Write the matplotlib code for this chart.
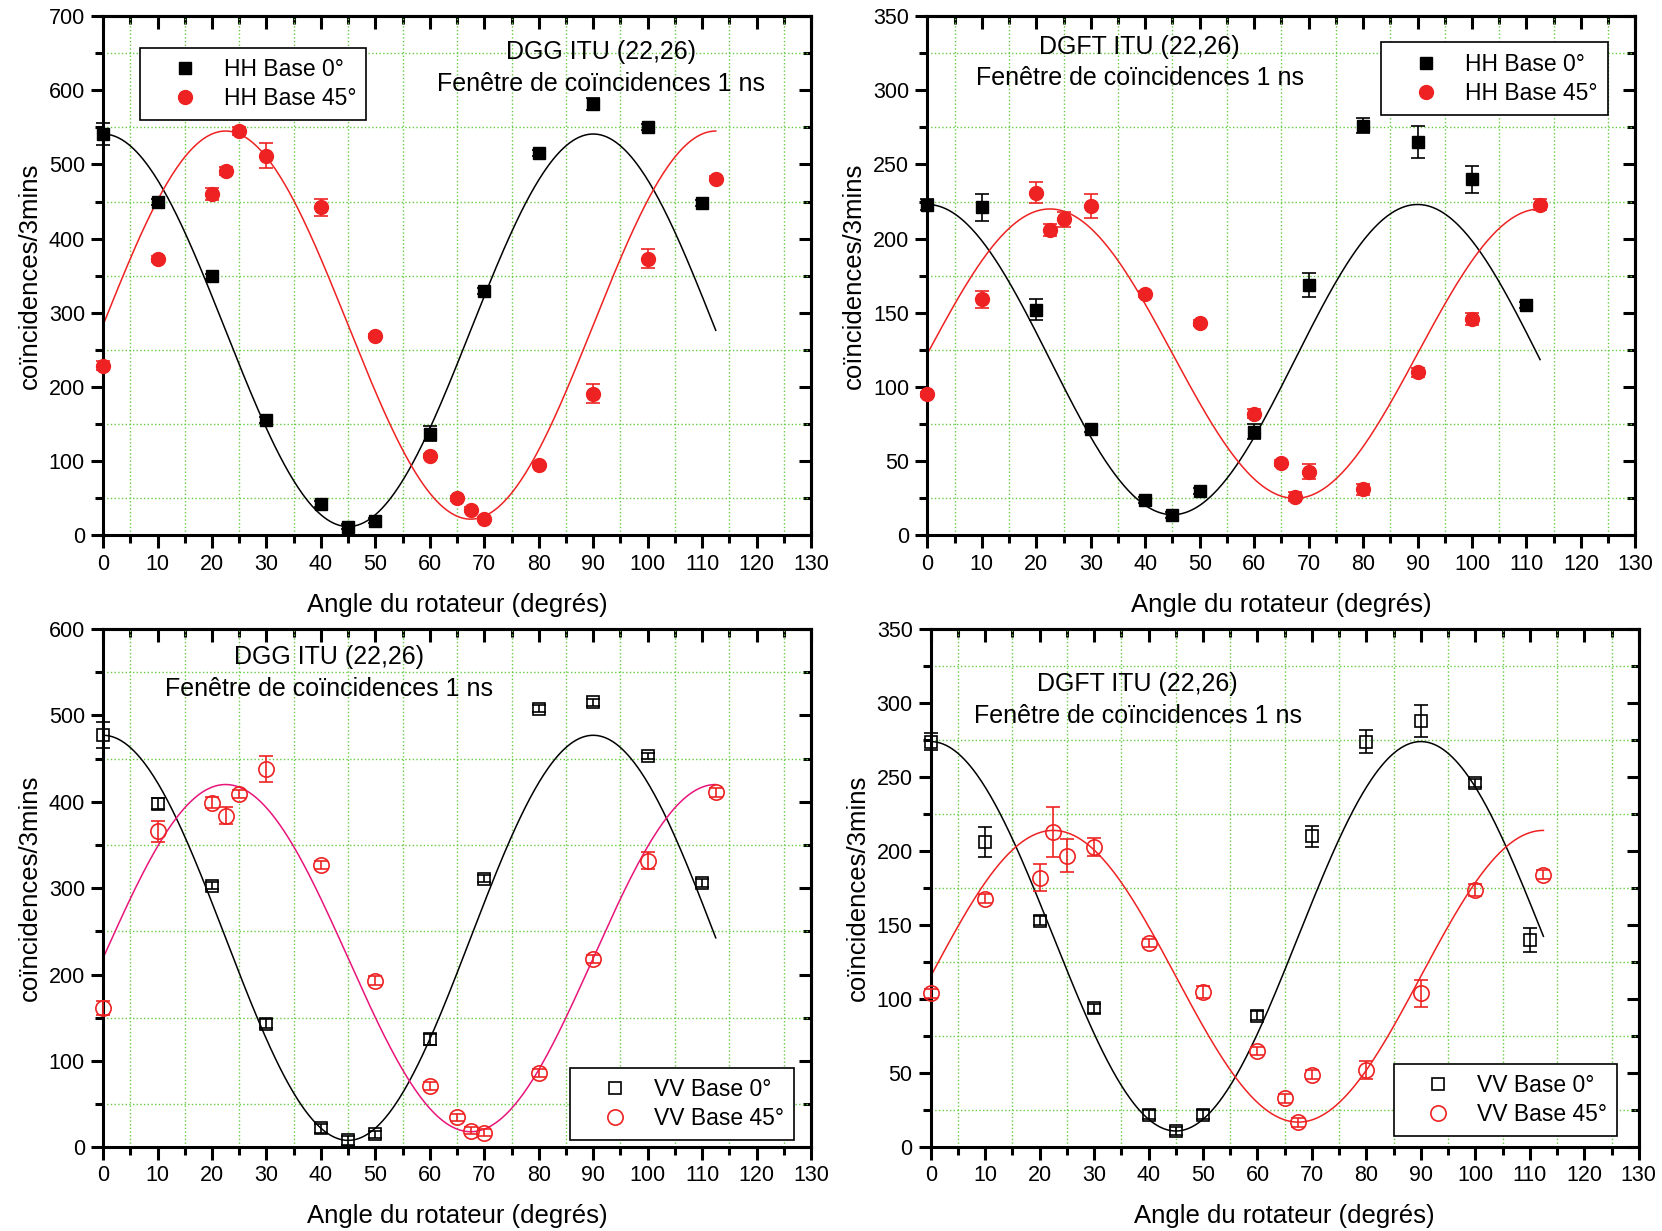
import numpy as np
import matplotlib
matplotlib.use('Agg')
import matplotlib.pyplot as plt
from matplotlib.lines import Line2D
from matplotlib.ticker import MultipleLocator

plt.rcParams['font.family'] = ['Liberation Sans', 'DejaVu Sans']

# --- data ---
angles_0 = [0, 10, 20, 30, 40, 45, 50, 60, 70, 80, 90, 100, 110]
angles_45 = [0, 10, 20, 22.5, 25, 30, 40, 50, 60, 65, 67.5, 70, 80, 90, 100, 112.5]

hh_dgg_0 = [541, 449, 349, 155, 43, 12, 20, 137, 330, 515, 581, 550, 448]
hh_dgg_0_err = [15, 4, 4, 4, 4, 3, 3, 10, 4, 4, 8, 4, 4]
hh_dgg_45 = [229, 373, 460, 491, 545, 512, 442, 269, 107, 50, 35, 22, 95, 191, 373, 481]
hh_dgg_45_err = [6, 4, 8, 5, 5, 17, 12, 3, 3, 3, 3, 3, 3, 13, 13, 4]

hh_dgft_0 = [223, 221, 152, 72, 24, 14, 30, 70, 169, 276, 265, 240, 155]
hh_dgft_0_err = [4, 9, 7, 2, 2, 2, 2, 5, 8, 5, 11, 9, 2]
hh_dgft_45 = [95, 159, 231, 206, 213, 222, 163, 143, 82, 49, 26, 43, 31, 110, 146, 223]
hh_dgft_45_err = [2, 6, 7, 4, 5, 8, 2, 2, 3, 2, 3, 5, 4, 3, 4, 4]

vv_dgg_0 = [477, 398, 303, 143, 22, 8, 15, 125, 311, 508, 515, 453, 306]
vv_dgg_0_err = [15, 6, 4, 5, 5, 5, 4, 6, 4, 4, 4, 4, 5]
vv_dgg_45 = [161, 366, 399, 384, 409, 438, 327, 193, 71, 35, 19, 17, 86, 218, 332, 411]
vv_dgg_45_err = [8, 12, 6, 10, 5, 15, 5, 5, 5, 4, 4, 4, 5, 5, 10, 5]

vv_dgft_0 = [274, 206, 153, 94, 22, 11, 22, 89, 210, 274, 288, 246, 140]
vv_dgft_0_err = [6, 10, 3, 3, 3, 3, 3, 3, 7, 8, 11, 3, 8]
vv_dgft_45 = [104, 168, 182, 213, 197, 203, 138, 105, 65, 33, 17, 49, 52, 104, 174, 184]
vv_dgft_45_err = [3, 3, 9, 17, 11, 6, 3, 4, 3, 3, 3, 3, 6, 9, 4, 3]

# cosine fits: (offset, amplitude, phase in degrees), period 90 deg
fit_hh_dgg = [(276.5, 264.5, 0), (283.5, 261.5, 22.5)]
fit_hh_dgft = [(118.5, 104.5, 0), (122.5, 97.5, 22.5)]
fit_vv_dgg = [(242.5, 234.5, 0), (219, 201, 22.5)]
fit_vv_dgft = [(142.5, 131.5, 0), (115.5, 98.5, 22.5)]

title_dgg = 'DGG ITU (22,26)'
title_dgft = 'DGFT ITU (22,26)'
subtitle = 'Fenêtre de coïncidences 1 ns'

fig = plt.figure(figsize=(16.62, 12.31), dpi=100)

axes_pos = [
    [0.062, 0.565, 0.426, 0.422],
    [0.558, 0.565, 0.426, 0.422],
    [0.062, 0.068, 0.426, 0.421],
    [0.560, 0.068, 0.426, 0.421],
]

panels = [
    dict(y0=hh_dgg_0, e0=hh_dgg_0_err, y45=hh_dgg_45, e45=hh_dgg_45_err, fit=fit_hh_dgg,
         ymax=700, ymaj=100, lab='HH', filled=True, c45='#ee2222',
         title=title_dgg, txy=(91.5, 651, 609),
         leg=dict(loc='upper left', bbox_to_anchor=(0.052, 0.939))),
    dict(y0=hh_dgft_0, e0=hh_dgft_0_err, y45=hh_dgft_45, e45=hh_dgft_45_err, fit=fit_hh_dgft,
         ymax=350, ymaj=50, lab='HH', filled=True, c45='#ee2222',
         title=title_dgft, txy=(39, 329, 308),
         leg=dict(loc='upper right', bbox_to_anchor=(0.961, 0.949))),
    dict(y0=vv_dgg_0, e0=vv_dgg_0_err, y45=vv_dgg_45, e45=vv_dgg_45_err, fit=fit_vv_dgg,
         ymax=600, ymaj=100, lab='VV', filled=False, c45='#e8157a',
         title=title_dgg, txy=(41.5, 568, 531),
         leg=dict(loc='lower right', bbox_to_anchor=(0.976, 0.014))),
    dict(y0=vv_dgft_0, e0=vv_dgft_0_err, y45=vv_dgft_45, e45=vv_dgft_45_err, fit=fit_vv_dgft,
         ymax=350, ymaj=50, lab='VV', filled=False, c45='#ee2222',
         title=title_dgft, txy=(38, 313, 291),
         leg=dict(loc='lower right', bbox_to_anchor=(0.970, 0.022))),
]

theta = np.linspace(0, 112.5, 400)

for pos, p in zip(axes_pos, panels):
    ax = fig.add_axes(pos)
    ax.set_xlim(0, 130)
    ax.set_ylim(0, p['ymax'])

    # fit curves
    (o0, a0, ph0), (o45, a45, ph45) = p['fit']
    ax.plot(theta, o0 + a0 * np.cos(2 * np.pi * (theta - ph0) / 90), color='black', lw=1.1, zorder=2)
    ax.plot(theta, o45 + a45 * np.cos(2 * np.pi * (theta - ph45) / 90), color=p['c45'], lw=1.1, zorder=2)

    if p['filled']:
        kw0 = dict(marker='s', ms=9, mfc='black', mec='black')
        kw45 = dict(marker='o', ms=10, mfc='#ee2222', mec='#ee2222')
    else:
        kw0 = dict(marker='s', ms=9, mfc='none', mec='black', mew=1.2)
        kw45 = dict(marker='o', ms=11, mfc='none', mec='#ee2222', mew=1.2)

    ax.errorbar(angles_0, p['y0'], yerr=p['e0'], ls='none', ecolor='black', elinewidth=1.2,
                capsize=5, capthick=1.2, zorder=3, clip_on=False, **kw0)
    ax.errorbar(angles_45, p['y45'], yerr=p['e45'], ls='none', ecolor='#ee2222', elinewidth=1.2,
                capsize=5, capthick=1.2, zorder=3, clip_on=False, **kw45)

    tx, ty1, ty2 = p['txy']
    ax.text(tx, ty1, p['title'], ha='center', va='center', fontsize=18)
    ax.text(tx, ty2, subtitle, ha='center', va='center', fontsize=18)

    # ticks and grid
    ax.xaxis.set_major_locator(MultipleLocator(10))
    ax.xaxis.set_minor_locator(MultipleLocator(5))
    ax.yaxis.set_major_locator(MultipleLocator(p['ymaj']))
    ax.yaxis.set_minor_locator(MultipleLocator(p['ymaj'] / 2))
    ax.grid(which='minor', color='#66cc44', linestyle=':', linewidth=1.0)
    ax.grid(which='major', visible=False)
    ax.set_axisbelow(True)
    ax.tick_params(which='both', direction='out', width=2.2, labelsize=15.5, pad=4)
    ax.tick_params(which='major', length=9)
    ax.tick_params(which='minor', length=6)

    for side in ['top', 'right']:
        if side == 'top':
            sec = ax.secondary_xaxis('top')
            axis = sec.xaxis
        else:
            sec = ax.secondary_yaxis('right')
            axis = sec.yaxis
        axis.set_major_locator(MultipleLocator(10 if side == 'top' else p['ymaj']))
        axis.set_minor_locator(MultipleLocator(5 if side == 'top' else p['ymaj'] / 2))
        sec.tick_params(which='both', direction='in', width=2.2, labeltop=False, labelright=False)
        sec.tick_params(which='major', length=9)
        sec.tick_params(which='minor', length=6)
        for s in sec.spines.values():
            s.set_linewidth(2.2)

    for s in ax.spines.values():
        s.set_linewidth(2.2)

    ax.set_xlabel('Angle du rotateur (degrés)', fontsize=18.5, labelpad=13)
    ax.set_ylabel('coïncidences/3mins', fontsize=18.5, labelpad=5)

    handles = [Line2D([], [], ls='none', **kw0), Line2D([], [], ls='none', **kw45)]
    labels = [p['lab'] + ' Base 0°', p['lab'] + ' Base 45°']
    leg = ax.legend(handles, labels, fontsize=16.5, frameon=True, fancybox=False, edgecolor='black',
                    framealpha=1, borderaxespad=0, handletextpad=0.2, borderpad=0.45,
                    labelspacing=0.25, handlelength=3.0, **p['leg'])
    leg.get_frame().set_linewidth(1.2)

fig.savefig('out.png', dpi=100)
